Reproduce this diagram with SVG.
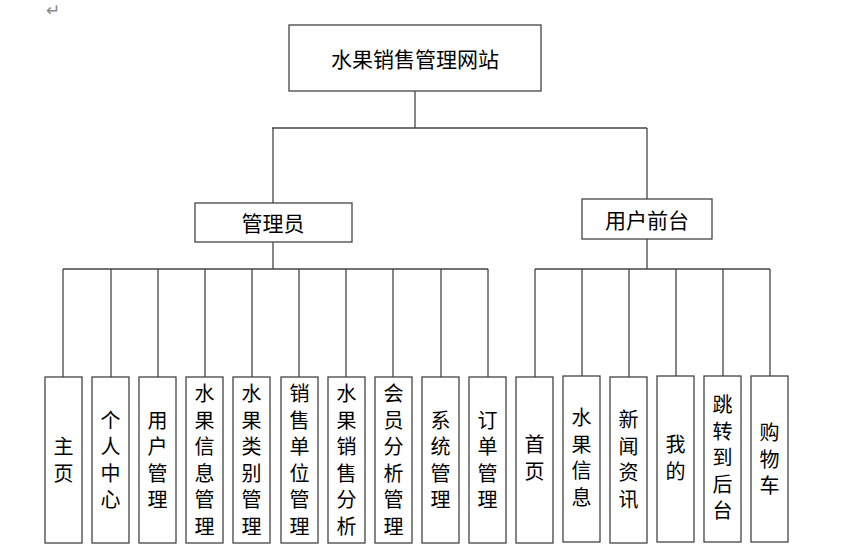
<svg xmlns="http://www.w3.org/2000/svg" width="850" height="556" viewBox="0 0 850 556">
<style>
rect{fill:#fff;stroke:#444;stroke-width:1.3}
.c line{stroke:#444;stroke-width:1.3}
text{font-family:"Noto Sans CJK SC","Noto Sans",sans-serif;fill:#000;text-anchor:middle;dominant-baseline:central}
.h{font-size:21px}
.l{font-size:20px}
</style>
<rect x="0" y="0" width="850" height="556" style="stroke:none"/>
<text x="53" y="10" style="font-size:17px;fill:#888;font-family:'DejaVu Sans',sans-serif">↵</text>
<g class="c" id="connectors">
<line x1="415" y1="91" x2="415" y2="128"/>
<line x1="272" y1="128" x2="647" y2="128"/>
<line x1="273" y1="128" x2="273" y2="203"/>
<line x1="647" y1="128" x2="647" y2="199"/>
<line x1="273" y1="242" x2="273" y2="269"/>
<line x1="647" y1="239" x2="647" y2="269"/>
<line x1="63" y1="269" x2="488" y2="269"/>
<line x1="535" y1="269" x2="770" y2="269"/>
<line x1="63" y1="269" x2="63" y2="377"/>
<line x1="111" y1="269" x2="111" y2="377"/>
<line x1="158" y1="269" x2="158" y2="377"/>
<line x1="205" y1="269" x2="205" y2="377"/>
<line x1="252" y1="269" x2="252" y2="377"/>
<line x1="299" y1="269" x2="299" y2="377"/>
<line x1="346" y1="269" x2="346" y2="377"/>
<line x1="393" y1="269" x2="393" y2="377"/>
<line x1="441" y1="269" x2="441" y2="377"/>
<line x1="488" y1="269" x2="488" y2="377"/>
<line x1="535" y1="269" x2="535" y2="377"/>
<line x1="582" y1="269" x2="582" y2="376"/>
<line x1="629" y1="269" x2="629" y2="377"/>
<line x1="676" y1="269" x2="676" y2="376"/>
<line x1="723" y1="269" x2="723" y2="376"/>
<line x1="770" y1="269" x2="770" y2="376"/>
</g>
<g id="root"><rect x="289" y="25" width="252" height="66"/><text class="h" x="415" y="58">水果销售管理网站</text></g>
<g id="admin"><rect x="195" y="203" width="157" height="39"/><text class="h" x="273" y="222">管理员</text></g>
<g id="front"><rect x="582" y="199" width="130" height="40"/><text class="h" x="647" y="219">用户前台</text></g>

<g id="n1"><rect x="45" y="377" width="37" height="166"/><text class="l" x="63.5"><tspan x="63.5" y="445">主</tspan><tspan x="63.5" y="471.5">页</tspan></text></g>
<g id="n2"><rect x="92" y="377" width="37" height="166"/><text class="l" x="110.5"><tspan x="110.5" y="418.5">个</tspan><tspan x="110.5" y="445">人</tspan><tspan x="110.5" y="471.5">中</tspan><tspan x="110.5" y="498">心</tspan></text></g>
<g id="n3"><rect x="139" y="377" width="37" height="166"/><text class="l" x="157.5"><tspan x="157.5" y="418.5">用</tspan><tspan x="157.5" y="445">户</tspan><tspan x="157.5" y="471.5">管</tspan><tspan x="157.5" y="498">理</tspan></text></g>
<g id="n4"><rect x="186" y="377" width="37" height="166"/><text class="l" x="204.5"><tspan x="204.5" y="392">水</tspan><tspan x="204.5" y="418.5">果</tspan><tspan x="204.5" y="445">信</tspan><tspan x="204.5" y="471.5">息</tspan><tspan x="204.5" y="498">管</tspan><tspan x="204.5" y="524.5">理</tspan></text></g>
<g id="n5"><rect x="233" y="377" width="37" height="166"/><text class="l" x="251.5"><tspan x="251.5" y="392">水</tspan><tspan x="251.5" y="418.5">果</tspan><tspan x="251.5" y="445">类</tspan><tspan x="251.5" y="471.5">别</tspan><tspan x="251.5" y="498">管</tspan><tspan x="251.5" y="524.5">理</tspan></text></g>
<g id="n6"><rect x="281" y="377" width="37" height="166"/><text class="l" x="299.5"><tspan x="299.5" y="392">销</tspan><tspan x="299.5" y="418.5">售</tspan><tspan x="299.5" y="445">单</tspan><tspan x="299.5" y="471.5">位</tspan><tspan x="299.5" y="498">管</tspan><tspan x="299.5" y="524.5">理</tspan></text></g>
<g id="n7"><rect x="328" y="377" width="37" height="166"/><text class="l" x="346.5"><tspan x="346.5" y="392">水</tspan><tspan x="346.5" y="418.5">果</tspan><tspan x="346.5" y="445">销</tspan><tspan x="346.5" y="471.5">售</tspan><tspan x="346.5" y="498">分</tspan><tspan x="346.5" y="524.5">析</tspan></text></g>
<g id="n8"><rect x="375" y="377" width="37" height="166"/><text class="l" x="393.5"><tspan x="393.5" y="392">会</tspan><tspan x="393.5" y="418.5">员</tspan><tspan x="393.5" y="445">分</tspan><tspan x="393.5" y="471.5">析</tspan><tspan x="393.5" y="498">管</tspan><tspan x="393.5" y="524.5">理</tspan></text></g>
<g id="n9"><rect x="422" y="377" width="37" height="166"/><text class="l" x="440.5"><tspan x="440.5" y="418.5">系</tspan><tspan x="440.5" y="445">统</tspan><tspan x="440.5" y="471.5">管</tspan><tspan x="440.5" y="498">理</tspan></text></g>
<g id="n10"><rect x="469" y="377" width="37" height="166"/><text class="l" x="487.5"><tspan x="487.5" y="418.5">订</tspan><tspan x="487.5" y="445">单</tspan><tspan x="487.5" y="471.5">管</tspan><tspan x="487.5" y="498">理</tspan></text></g>

<g id="n11"><rect x="516" y="377" width="37" height="166"/><text class="l" x="534.5"><tspan x="534.5" y="443">首</tspan><tspan x="534.5" y="470">页</tspan></text></g>
<g id="n12"><rect x="563" y="376" width="37" height="166"/><text class="l" x="581.5"><tspan x="581.5" y="416">水</tspan><tspan x="581.5" y="442.5">果</tspan><tspan x="581.5" y="469">信</tspan><tspan x="581.5" y="495.5">息</tspan></text></g>
<g id="n13"><rect x="610" y="377" width="37" height="166"/><text class="l" x="628.5"><tspan x="628.5" y="418">新</tspan><tspan x="628.5" y="444.5">闻</tspan><tspan x="628.5" y="471">资</tspan><tspan x="628.5" y="497.5">讯</tspan></text></g>
<g id="n14"><rect x="657" y="376" width="37" height="166"/><text class="l" x="675.5"><tspan x="675.5" y="443">我</tspan><tspan x="675.5" y="470">的</tspan></text></g>
<g id="n15"><rect x="704" y="376" width="37" height="166"/><text class="l" x="722.5"><tspan x="722.5" y="403">跳</tspan><tspan x="722.5" y="429.5">转</tspan><tspan x="722.5" y="456">到</tspan><tspan x="722.5" y="482.5">后</tspan><tspan x="722.5" y="509">台</tspan></text></g>
<g id="n16"><rect x="751" y="376" width="37" height="166"/><text class="l" x="769.5"><tspan x="769.5" y="431">购</tspan><tspan x="769.5" y="457.5">物</tspan><tspan x="769.5" y="484">车</tspan></text></g>
</svg>
